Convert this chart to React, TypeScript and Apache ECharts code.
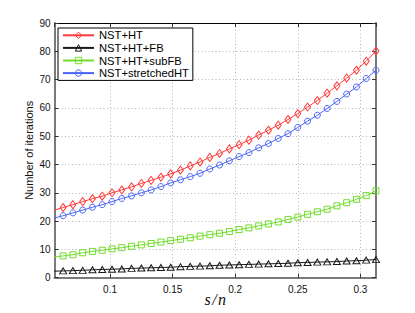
import React, { useEffect, useRef } from 'react';
import * as echarts from 'echarts';

// s/n sample positions (k/128), first one lies just left of the visible range
const sOverN = [
  0.0546875, 0.0625, 0.0703125, 0.078125, 0.0859375, 0.09375, 0.1015625, 0.109375,
  0.1171875, 0.125, 0.1328125, 0.140625, 0.1484375, 0.15625, 0.1640625, 0.171875,
  0.1796875, 0.1875, 0.1953125, 0.203125, 0.2109375, 0.21875, 0.2265625, 0.234375,
  0.2421875, 0.25, 0.2578125, 0.265625, 0.2734375, 0.28125, 0.2890625, 0.296875,
  0.3046875, 0.3125,
];

const nstHT = [
  23.8, 24.8, 25.8, 26.9, 27.9, 28.8, 30.0, 31.0, 32.1, 33.3, 34.4, 35.5, 36.7, 38.0,
  39.5, 40.9, 42.5, 43.9, 45.5, 47.0, 48.6, 50.4, 52.1, 53.9, 55.9, 58.0, 60.3, 62.6,
  65.2, 67.8, 70.5, 73.3, 76.5, 80.1,
];

const nstHTFB = [
  2.3, 2.4, 2.5, 2.6, 2.8, 2.9, 3.0, 3.1, 3.3, 3.4, 3.5, 3.6, 3.7, 3.9, 4.0, 4.1, 4.2,
  4.4, 4.5, 4.6, 4.7, 4.8, 4.9, 5.0, 5.1, 5.3, 5.4, 5.5, 5.6, 5.7, 5.9, 6.0, 6.2, 6.4,
];

const nstHTsubFB = [
  7.3, 7.7, 8.1, 8.8, 9.3, 9.7, 10.2, 10.6, 11.1, 11.6, 12.1, 12.6, 13.1, 13.6, 14.1,
  14.7, 15.2, 15.7, 16.3, 17.0, 17.6, 18.3, 19.0, 19.7, 20.6, 21.4, 22.4, 23.3, 24.2,
  25.4, 26.5, 27.7, 29.0, 30.7,
];

const nstStretchedHT = [
  21.0, 21.9, 22.9, 23.9, 24.9, 25.8, 26.9, 28.0, 28.9, 30.0, 31.0, 32.2, 33.5, 34.6,
  35.7, 36.9, 38.4, 39.8, 41.3, 42.8, 44.2, 45.9, 47.4, 49.2, 50.9, 53.1, 55.3, 57.4,
  59.8, 62.3, 64.9, 67.4, 70.4, 73.3,
];

const seriesNames = ['NST+HT', 'NST+HT+FB', 'NST+HT+subFB', 'NST+stretchedHT'];

const X_MIN = 0.0556;
const X_MAX = 0.3125;
const Y_MIN = 0;
const Y_MAX = 90;
const Y_STEP = 10;

const SANS = "Liberation Sans, Arial, Helvetica, sans-serif";

function makeSeries(name: string, values: number[], color: string, symbol: string, size: any, z: number) {
  return {
    name,
    type: 'line',
    data: sOverN.map((s, i) => [s, values[i]]),
    symbol,
    symbolSize: size,
    showSymbol: true,
    clip: true,
    z,
    lineStyle: { color, width: 1 },
    itemStyle: { color: 'rgba(255,255,255,0)', borderColor: color, borderWidth: 1 },
    emphasis: { disabled: true },
  };
}

export default function App() {
  const ref = useRef<HTMLDivElement>(null);

  useEffect(() => {
    document.body.style.margin = '0';
    const chart = echarts.init(ref.current!, undefined, { renderer: 'svg' });
    const gridLine = { show: true, lineStyle: { color: '#b5b5b5', width: 1, type: [1, 2.5] } };
    const tick = { show: true, inside: true, length: 4, lineStyle: { color: '#333', width: 1 } };
    chart.setOption({
      animation: false,
      backgroundColor: '#fff',
      grid: { left: 54.5, right: 39, top: 23, bottom: 35.3, containLabel: false },
      legend: {
        orient: 'vertical',
        left: 58,
        top: 28,
        data: seriesNames,
        itemWidth: 31,
        itemHeight: 8,
        itemGap: 0,
        padding: [1, 4, 1, 4],
        backgroundColor: '#fff',
        borderColor: '#000',
        borderWidth: 1,
        borderRadius: 0,
        selectedMode: false,
        z: 10,
        itemStyle: { borderWidth: 1 },
        textStyle: { fontSize: 11.2, fontFamily: SANS, color: '#000', lineHeight: 12.6 },
      },
      xAxis: [
        {
          type: 'value',
          position: 'bottom',
          min: X_MIN,
          max: X_MAX,
          splitNumber: 5,
          axisLine: { show: true, onZero: false, lineStyle: { color: '#7a7a7a', width: 2 } },
          axisTick: tick,
          axisLabel: {
            showMinLabel: false,
            showMaxLabel: false,
            color: '#111',
            fontSize: 10,
            fontFamily: SANS,
            margin: 7,
          },
          splitLine: gridLine,
          name: 's\u200A/\u200An',
          nameLocation: 'middle',
          nameGap: 14,
          nameMoveOverlap: false,
          nameTextStyle: { fontFamily: "Liberation Serif, DejaVu Serif, serif", fontStyle: 'italic', fontSize: 16, color: '#111' },
        },
        {
          type: 'value',
          position: 'top',
          min: X_MIN,
          max: X_MAX,
          splitNumber: 5,
          axisLine: { show: true, onZero: false, lineStyle: { color: '#000', width: 1 } },
          axisTick: tick,
          axisLabel: { show: false },
          splitLine: { show: false },
        },
      ],
      yAxis: [
        {
          type: 'value',
          position: 'left',
          min: Y_MIN,
          max: Y_MAX,
          interval: Y_STEP,
          axisLine: { show: true, onZero: false, lineStyle: { color: '#7a7a7a', width: 2 } },
          axisTick: tick,
          axisLabel: { color: '#111', fontSize: 10, fontFamily: SANS, margin: 4 },
          splitLine: gridLine,
          name: 'Number of iterations',
          nameLocation: 'middle',
          nameGap: 20,
          nameMoveOverlap: false,
          nameTextStyle: { fontSize: 11, fontFamily: SANS, color: '#111' },
        },
        {
          type: 'value',
          position: 'right',
          min: Y_MIN,
          max: Y_MAX,
          interval: Y_STEP,
          axisLine: { show: true, onZero: false, lineStyle: { color: '#7a7a7a', width: 2 } },
          axisTick: tick,
          axisLabel: { show: false },
          splitLine: { show: false },
        },
      ],
      series: [
        makeSeries(seriesNames[0], nstHT, '#ff3a3a', 'diamond', [6, 8], 5),
        makeSeries(seriesNames[1], nstHTFB, '#1a1a1a', 'triangle', [7, 6], 4),
        makeSeries(seriesNames[2], nstHTsubFB, '#72dc2c', 'rect', 6, 3),
        makeSeries(seriesNames[3], nstStretchedHT, '#4a64f5', 'circle', 6, 2),
      ],
    });
    return () => chart.dispose();
  }, []);

  return <div ref={ref} style={{ width: 415, height: 313 }} />;
}
